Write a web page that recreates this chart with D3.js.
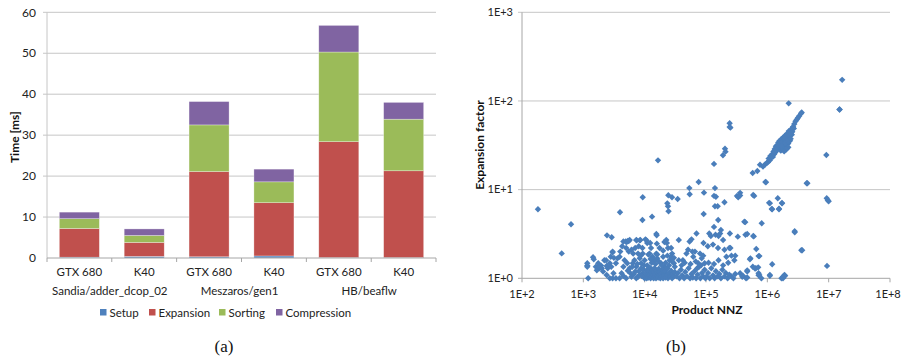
<!DOCTYPE html>
<html><head><meta charset="utf-8">
<script src="https://cdn.jsdelivr.net/npm/d3@7"></script>
<style>body{margin:0;background:#fff}svg{display:block}text{font-family:Lato,"Open Sans",sans-serif}</style>
</head><body>
<svg id="c" width="901" height="362"></svg>
<script>
// ---------- Data: stacked bars (a) ----------
const categories = ["GTX 680","K40","GTX 680","K40","GTX 680","K40"];
const groups = ["Sandia/adder_dcop_02","Meszaros/gen1","HB/beaflw"];
const seriesNames = ["Setup","Expansion","Sorting","Compression"];
const setup       = [0.2, 0.4, 0.3, 0.5, 0.1, 0.1];
const expansion   = [7.0, 3.4, 20.8, 13.0, 28.3, 21.2];
const sorting     = [2.4, 1.7, 11.4, 5.1, 21.9, 12.6];
const compression = [1.6, 1.6, 5.7, 3.1, 6.5, 4.1];
const barTicks = [0,10,20,30,40,50,60];

// ---------- Data: scatter (b) ----------
const xTicks = [1e2,1e3,1e4,1e5,1e6,1e7,1e8];
const xTickLabels = ["1E+2","1E+3","1E+4","1E+5","1E+6","1E+7","1E+8"];
const yTicks = [1,10,100,1000];
const yTickLabels = ["1E+0","1E+1","1E+2","1E+3"];
const scatterPoints = [
[182,6.0],[444,1.91],[630,4.07],[1160,1.39],[1160,1.48],[1200,1.0],[1440,1.73],[1480,1.64],[2430,3.05],[2900,2.9],
[3960,5.55],[9200,4.55],[9300,8.2],[13200,4.96],[16500,21.4],[15500,3.16],[15700,3.05],[24300,8.63],[23400,7.0],[24000,6.5],
[24500,5.7],[27900,8.2],[34500,7.85],[53500,10.4],[54200,8.86],[75900,12.2],[92700,9.25],[91600,5.32],[135000,19.5],[140000,10.4],
[135000,8.5],[145000,8.3],[140000,6.5],[155000,6.5],[158000,4.55],[189000,24.4],[204000,28.9],[208000,26.8],[200000,7.2],[243000,56],
[243000,51],[250000,50],[320000,8.5],[335000,8.2],[360000,9.2],[422000,4.35],[330000,2.95],[440000,3.1],[577000,15.4],[687000,16.2],
[588000,8.7],[610000,8.5],[590000,3.0],[600000,2.97],[660000,2.14],[741000,1.78],[810000,4.17],[930000,12.2],[1070000,7.1],[1180000,6.05],
[1200000,1.44],[1100000,1.09],[1480000,8.0],[1550000,6.1],[1730000,7.07],[2230000,94],[2790000,3.39],[3580000,2.07],[4380000,11.8],[9160000,24.6],
[9300000,8.0],[9700000,7.6],[1.0e7,7.4],[9400000,1.38],[1.51e7,80],[1.66e7,173],[1.7e6,1.0],[1.8e6,1.04],[1.9e6,1.09],[1.95e6,1.07],
[760000,19.1],[850000,18.2],
// diagonal band
[9.1e5,19.1],[9.8e5,20],[1.02e6,20.4],[1.05e6,22.4],[1.10e6,21.4],[1.12e6,24],[1.15e6,22.9],[1.2e6,25.1],[1.23e6,23.4],[1.26e6,26.9],
[1.29e6,25.1],[1.32e6,28.8],[1.35e6,26.3],[1.38e6,30.9],[1.41e6,27.5],[1.45e6,31.6],[1.48e6,28.8],[1.51e6,33.9],[1.55e6,30.2],[1.58e6,35.5],
[1.62e6,31.6],[1.66e6,27.5],[1.70e6,37.2],[1.74e6,33.1],[1.78e6,28.8],[1.82e6,38.9],[1.86e6,34.7],[1.91e6,30.2],[1.95e6,40.7],[2.0e6,36.3],
[2.04e6,31.6],[2.09e6,42.7],[2.14e6,38],[2.19e6,33.1],[2.24e6,45.7],[2.29e6,39.8],[2.34e6,35.5],[2.45e6,47.9],[2.51e6,41.7],[2.63e6,51.3],
[2.75e6,55],[2.88e6,58.9],[3.02e6,61.7],[3.16e6,64.6],[3.31e6,67.6],[3.55e6,72.4],[3.63e6,74.1],[1.41e6,29.5],[1.58e6,32.4],[1.78e6,35.5],
[2.0e6,39.8],[2.24e6,41.7],[1.91e6,37.2],[1.66e6,33.9],[1.51e6,31.6],[1.32e6,26.9],[2.1e6,36],[2.3e6,44],[1.7e6,31],
[2.4e6,37.5],[2.55e6,45],[2.7e6,49],[2.2e6,30],[2.05e6,28.5],[1.88e6,27],[1.95e6,33.5],[2.15e6,35],[2.4e6,43],[2.6e6,50],
// cluster 1e3 - 3e3
[1160,1.35],[1600,1.35],[1750,1.48],[1850,1.3],[1950,1.39],[2100,1.19],[2200,1.6],[2400,1.09],[2500,1.3],[2700,1.48],
[2800,1.75],[3000,2.0],[3000,1.0],[3100,1.14],[2700,1.0],[2850,1.35],[2400,1.38],[1740,1.33],[2000,1.3],[1660,1.23],
[2350,1.6],[3000,1.96],[3150,1.7],
// cluster 3e3 - 1e4
[3400,1.48],[3600,1.68],[3900,1.75],[4200,1.14],[4500,1.35],[4500,2.6],[4900,2.6],[5300,2.63],[5700,2.7],[5000,2.2],
[5500,2.0],[6100,2.1],[6500,1.9],[7000,2.2],[7300,2.7],[7800,1.9],[8000,2.3],[8500,2.7],[9300,1.9],[4700,1.6],
[5200,1.48],[5700,1.3],[6100,1.04],[6400,1.48],[7000,1.19],[7300,1.35],[7800,1.04],[8300,1.68],[8800,1.3],[9300,1.14],
[10000,1.0],[3400,1.0],[3900,1.0],[4500,1.06],[5000,1.0],[5300,1.22],[6300,1.35],[7300,1.0],[8300,1.09],[8800,1.48],
[9200,2.2],[4300,2.3],[4000,2.0],[5100,2.57],[5500,2.63],[7400,2.68],[8300,2.68],[6700,1.12],[8000,1.2],[9000,1.06],
[9600,1.25],[5800,1.15],[6800,1.6],[7600,1.45],[8600,1.8],[9800,1.4],
// cluster 1e4 - 3.2e4
[10300,2.75],[11000,2.5],[12000,1.9],[12700,2.2],[13500,1.75],[14500,1.6],[15500,1.9],[16000,1.68],[17500,2.2],[18500,1.48],
[20000,1.75],[21000,1.35],[22500,2.7],[23000,2.5],[24000,2.2],[25500,1.6],[27000,2.2],[28000,1.9],[30000,1.48],[31000,1.35],
[10700,2.68],[12300,2.5],[15800,2.46],[21000,2.57],
[10200,1.05],[10500,1.15],[10800,1.0],[11000,1.25],[11200,1.1],[11500,1.02],[11800,1.2],[12000,1.08],[12200,1.32],[12500,1.0],
[12800,1.15],[13000,1.05],[13300,1.25],[13600,1.1],[14000,1.0],[14200,1.18],[14500,1.3],[14800,1.06],[15000,1.12],[15300,1.0],
[15600,1.22],[16000,1.08],[16300,1.15],[16600,1.02],[17000,1.28],[17300,1.1],[17700,1.18],[18000,1.0],[18500,1.12],[19000,1.05],
[19500,1.25],[20000,1.0],[20500,1.15],[21000,1.08],[21500,1.2],[22000,1.02],[23000,1.1],[23500,1.3],[24000,1.0],[25000,1.15],
[26000,1.05],[27000,1.22],[28000,1.0],[29000,1.12],[30000,1.05],[31000,1.18],
[11000,1.4],[13000,1.5],[15000,1.45],[17000,1.55],[19000,1.4],[22000,1.5],[25000,1.4],[28000,1.55],[12500,1.65],[16000,1.85],
[20000,2.05],[23500,1.8],[10000,1.6],[11500,1.85],[27000,1.75],[30000,1.7],
// cluster 3.2e4 - 1e5
[36000,2.7],[42000,1.6],[48000,1.9],[51000,2.1],[54000,2.6],[58000,2.75],[60000,2.0],[62000,1.75],[66000,2.0],[70000,3.2],
[75000,1.48],[80000,1.9],[85000,1.68],[90000,1.8],[95000,1.48],[91000,2.5],
[33000,1.05],[35000,1.15],[37000,1.0],[39000,1.25],[41000,1.08],[44000,1.0],[46000,1.18],[49000,1.05],[52000,1.3],[55000,1.0],
[58000,1.12],[61000,1.02],[65000,1.2],[69000,1.0],[73000,1.1],[77000,1.35],[81000,1.0],[86000,1.15],[90000,1.05],[95000,1.25],
[98000,1.0],[40000,1.4],[45000,1.5],[56000,1.45],[68000,1.55],[83000,1.4],[36000,1.6],[72000,1.3],
// cluster 1e5 - 3.2e5
[107000,2.3],[113000,3.2],[120000,3.0],[130000,2.4],[135000,3.8],[143000,3.1],[157000,2.2],[170000,3.2],[175000,3.5],[190000,2.7],
[200000,2.1],[215000,1.75],[240000,2.2],[245000,3.2],[260000,1.8],[290000,1.6],[300000,1.8],[250000,2.2],[160000,3.0],
[102000,1.05],[108000,1.15],[115000,1.0],[122000,1.3],[130000,1.08],[138000,1.0],[145000,1.2],[155000,1.05],[165000,1.12],[175000,1.0],
[185000,1.25],[200000,1.05],[210000,1.15],[225000,1.0],[240000,1.1],[260000,1.05],[280000,1.0],[300000,1.12],[110000,1.5],[135000,1.45],
[160000,1.6],[190000,1.4],[230000,1.5],
// 3.2e5 - 1e6
[360000,1.14],[390000,1.04],[450000,1.0],[470000,1.19],[530000,1.68],[580000,1.35],[650000,1.3],[720000,1.14],[740000,1.09],[800000,1.0],
[360000,8.6],[436000,4.3],[470000,3.16],[2.8e6,3.3],[3.7e6,2.07],[720000,1.78],[520000,1.64],[470000,1.23],[630000,1.29],[710000,1.33],
[400000,1.07],[470000,1.02],[720000,1.08],[1.1e6,1.07],[1.8e6,1.0],[1.1e6,7.0],[1.74e6,7.0],[1.2e6,6.0],[1.55e6,6.0],[4.5e6,11.8],
[9.5e5,12.1],[1.5e7,80]
];

// ---------- Drawing ----------
const svg = d3.select("#c");
const gridColor = "#c6c6c6", axisColor = "#a6a6a6", textColor = "#222";
const colors = ["#4f81bd","#c0504d","#9bbb59","#8064a2"];
const fs = 11.5;

// ===== Chart (a) =====
const aLeft = 47, aRight = 436, aTop = 12.3, aBottom = 258;
const xb = d3.scaleBand().domain(d3.range(categories.length)).range([aLeft, aRight]).paddingInner(0.383).paddingOuter(0.19);
const yb = d3.scaleLinear().domain([0,60]).range([aBottom, aTop]);
const ga = svg.append("g");

ga.selectAll("line.grid").data(barTicks.slice(1)).join("line")
  .attr("x1", aLeft-4).attr("x2", aRight).attr("y1", d=>yb(d)).attr("y2", d=>yb(d))
  .attr("stroke", gridColor).attr("stroke-width", 1);
ga.append("line").attr("x1", aLeft).attr("x2", aLeft).attr("y1", aTop).attr("y2", aBottom).attr("stroke", gridColor);
ga.selectAll("text.yl").data(barTicks).join("text")
  .attr("x", 36).attr("y", d=>yb(d)).attr("dy","0.35em").attr("text-anchor","end")
  .attr("font-size", 12).attr("fill", textColor).text(d=>d);
ga.append("text").attr("transform", `translate(19,${(aTop+aBottom)/2+2}) rotate(-90)`)
  .attr("text-anchor","middle").attr("font-size",12).attr("font-weight","bold").attr("fill","#111").text("Time [ms]");

const rows = categories.map((c,i)=>({i, Setup:setup[i], Expansion:expansion[i], Sorting:sorting[i], Compression:compression[i]}));
const stacked = d3.stack().keys(seriesNames)(rows);
ga.selectAll("g.series").data(stacked).join("g")
  .attr("fill", (d,i)=>colors[i])
  .selectAll("rect").data(d=>d).join("rect")
  .attr("x", d=>xb(d.data.i)).attr("width", xb.bandwidth())
  .attr("y", d=>yb(d[1])).attr("height", d=>Math.max(0, yb(d[0])-yb(d[1])))
  .attr("stroke","#ffffff").attr("stroke-opacity",0.5).attr("stroke-width",0.6);

ga.append("line").attr("x1", aLeft).attr("x2", aRight).attr("y1", aBottom).attr("y2", aBottom).attr("stroke", axisColor);
const step = xb.step();
const boundaries = d3.range(categories.length+1).map(k => k===0 ? aLeft : (k===categories.length ? aRight : xb(k) - step*0.383/2));
ga.selectAll("line.xt").data(boundaries).join("line")
  .attr("x1", d=>d).attr("x2", d=>d).attr("y1", aBottom).attr("y2", aBottom+4).attr("stroke", axisColor);
ga.selectAll("text.cat").data(categories).join("text")
  .attr("x", (d,i)=>xb(i)+xb.bandwidth()/2).attr("y", 276).attr("text-anchor","middle")
  .attr("font-size", fs).attr("fill", textColor).text(d=>d);
ga.selectAll("text.grp").data(groups).join("text")
  .attr("x", (d,g)=>(xb(2*g)+xb(2*g+1)+xb.bandwidth())/2 - 2).attr("y", 295).attr("text-anchor","middle")
  .attr("font-size", fs).attr("fill", textColor).text(d=>d);
const legendX = [100, 149, 219, 276];
const lg = ga.selectAll("g.leg").data(seriesNames).join("g").attr("transform",(d,i)=>`translate(${legendX[i]},309)`);
lg.append("rect").attr("width",6.5).attr("height",6.5).attr("y",0).attr("fill",(d,i)=>colors[i]);
lg.append("text").attr("x",9.5).attr("y",7.5).attr("font-size",fs).attr("fill",textColor).text(d=>d);

svg.append("text").attr("x",224).attr("y",352).attr("text-anchor","middle")
  .style("font-family","'Liberation Serif','DejaVu Serif',serif").attr("font-size",17).attr("fill","#111").text("(a)");

// ===== Chart (b) =====
const bLeft = 522, bRight = 890, bTop = 12.3, bBottom = 278.3;
const xs = d3.scaleLog().domain([1e2,1e8]).range([bLeft,bRight]);
const ys = d3.scaleLog().domain([1,1000]).range([bBottom,bTop]);
const gb = svg.append("g");

gb.selectAll("line.grid").data(yTicks.slice(1)).join("line")
  .attr("x1", bLeft-4).attr("x2", bRight).attr("y1", d=>ys(d)).attr("y2", d=>ys(d))
  .attr("stroke", gridColor);
gb.append("line").attr("x1", bLeft).attr("x2", bLeft).attr("y1", bTop).attr("y2", bBottom).attr("stroke", axisColor);
gb.append("line").attr("x1", bLeft-4).attr("x2", bRight).attr("y1", bBottom).attr("y2", bBottom).attr("stroke", axisColor);
gb.selectAll("line.xt").data(xTicks).join("line")
  .attr("x1", d=>xs(d)).attr("x2", d=>xs(d)).attr("y1", bBottom).attr("y2", bBottom+4).attr("stroke", axisColor);
gb.selectAll("text.yl").data(yTicks).join("text")
  .attr("x", 513).attr("y", d=>ys(d)).attr("dy","0.35em").attr("text-anchor","end")
  .attr("font-size", 11).attr("fill", textColor).text((d,i)=>yTickLabels[i]);
gb.selectAll("text.xl").data(xTicks).join("text")
  .attr("x", d=>Math.min(xs(d), 888)).attr("y", 298).attr("text-anchor","middle")
  .attr("font-size", 11).attr("fill", textColor).text((d,i)=>xTickLabels[i]);
gb.append("text").attr("x", 707).attr("y", 314).attr("text-anchor","middle")
  .attr("font-size",12).attr("font-weight","bold").attr("fill","#111").text("Product NNZ");
gb.append("text").attr("transform", `translate(484,145) rotate(-90)`)
  .attr("text-anchor","middle").attr("font-size",12).attr("font-weight","bold").attr("fill","#111").text("Expansion factor");

const diamond = d3.symbol().type(d3.symbolDiamond2 || d3.symbolDiamond).size(26);
gb.selectAll("path.pt").data(scatterPoints).join("path")
  .attr("transform", d=>`translate(${xs(d[0])},${ys(d[1])})`)
  .attr("d", diamond).attr("fill", "#4a7ebb");

svg.append("text").attr("x",676).attr("y",352).attr("text-anchor","middle")
  .style("font-family","'Liberation Serif','DejaVu Serif',serif").attr("font-size",17).attr("fill","#111").text("(b)");
</script>
</body></html>
